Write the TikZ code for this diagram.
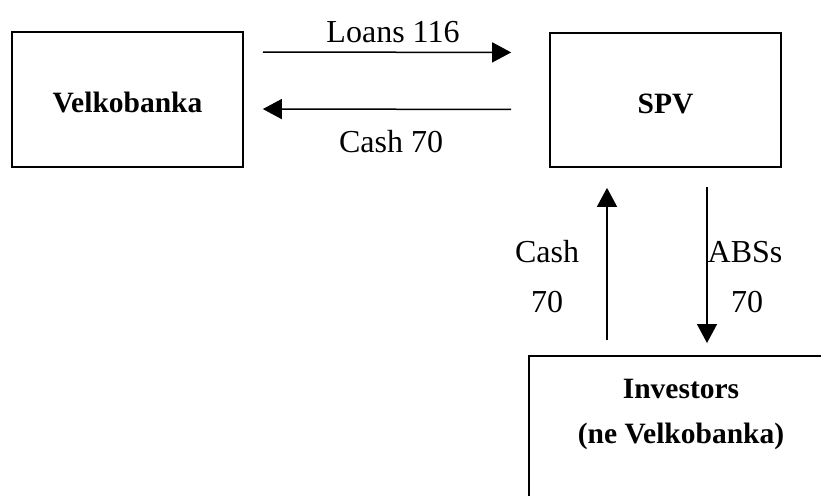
\documentclass[tikz,border=0pt]{standalone}
\usepackage{fontspec}
\setmainfont{Liberation Serif}
\usetikzlibrary{arrows.meta}
\tikzset{
  party/.style={draw, line width=1.7pt, inner sep=0pt, text height=26pt, text depth=0pt,
    font=\fontsize{29.5}{34}\selectfont\bfseries},
  flow/.style={line width=1.5pt, -{Triangle[length=19pt, width=20pt]}},
  amount/.style={anchor=base, inner sep=0pt, font=\fontsize{32}{36}\selectfont}
}
\begin{document}
\begin{tikzpicture}[x=1pt, y=-1pt]
  \useasboundingbox (0,0) rectangle (821,495);
  \clip (0,0) rectangle (821,495);
  \fill[white] (0,0) rectangle (821,495);

  % the three parties
  \node[party, minimum width=231pt, minimum height=135pt] (velko) at (127.5,99.5) {Velkobanka};
  \node[party, minimum width=231pt, minimum height=134pt] (spv) at (665.5,100) {SPV};
  \node[party, minimum width=306pt, minimum height=200pt, anchor=north west] (inv) at (528,355) {};
  \node[align=center, inner sep=0pt, font=\fontsize{29.5}{45}\selectfont\bfseries] (invtext) at (681,414)
    {Investors\\(ne Velkobanka)};

  % Velkobanka <-> SPV
  \draw[flow, shorten <=19pt, shorten >=38pt]
    ([yshift=47.5pt]velko.east) -- ([yshift=47.5pt]spv.west);
  \draw[flow, shorten <=38pt, shorten >=19pt]
    ([yshift=-9.5pt]spv.west) -- ([yshift=-9.5pt]velko.east);

  % SPV <-> investors
  \draw[flow, shorten <=15pt, shorten >=20pt]
    ([xshift=-58.5pt]spv.south |- inv.north) -- ([xshift=-58.5pt]spv.south);
  \draw[flow, shorten <=19pt, shorten >=12pt]
    ([xshift=41.5pt]spv.south) -- ([xshift=41.5pt]spv.south |- inv.north);

  % flow amounts
  \node[amount] (loans) at (393,42) {Loans 116};
  \node[amount] (cashtop) at (391,152) {Cash 70};
  \node[amount] (cashup) at (547,262) {Cash};
  \node[amount] (cashupn) at (547,312) {70};
  \node[amount] (abs) at (745,262) {ABSs};
  \node[amount] (absn) at (747,312) {70};
\end{tikzpicture}
\end{document}
